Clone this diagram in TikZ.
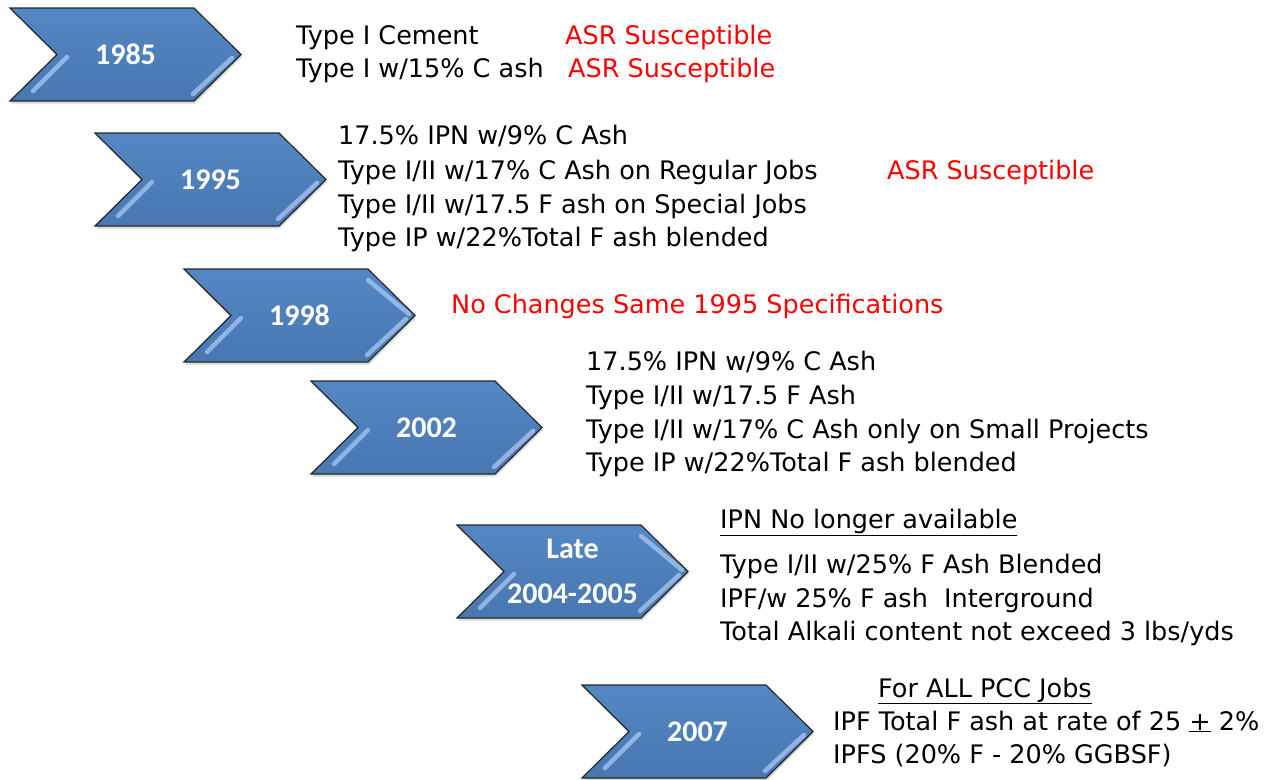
\documentclass[tikz,border=0pt]{standalone}
\usepackage{fontspec}
\setmainfont{DejaVu Sans}
\newfontfamily\yearfont{Carlito}
\usetikzlibrary{shadows}

\definecolor{chevtop}{RGB}{84,135,196}
\definecolor{chevbot}{RGB}{72,119,177}
\definecolor{glintblue}{RGB}{175,206,245}
\definecolor{asrred}{RGB}{255,0,0}

\tikzset{
  chev/.style={draw=black!85, line width=1.2pt, line join=miter, top color=chevtop, bottom color=chevbot,
    drop shadow={opacity=0.3, shadow xshift=1pt, shadow yshift=-2.5pt}},
  yearlbl/.style={text=white, font=\yearfont\bfseries\fontsize{30}{45}\selectfont, align=center, inner sep=0pt},
  spec/.style={anchor=base west, inner sep=0pt, font=\fontsize{25.5}{34}\selectfont},
  asr/.style={spec, text=asrred},
  glint/.style={draw=glintblue, line width=4.5pt, line cap=round, opacity=0.7}
}

% chevron: name, left, top, label
\newcommand{\yearchev}[4]{%
  \draw[chev] (#2,#3) -- ++(184,0) -- ++(47,46.5) -- ++(-47,46.5) -- ++(-184,0) -- ++(47,-46.5) -- cycle;
  \draw[glint] (#2+57,#3+49) -- ++(-34,34);
  \draw[glint] (#2+222,#3+50) -- ++(-39,36);
  \node[yearlbl] (#1) at (#2+115.5,#3+46.5) {#4};
}

\begin{document}
\begin{tikzpicture}[x=1pt,y=-1pt]
\useasboundingbox (0,0) rectangle (1266,779);

% year arrows
\yearchev{y85}{10}{8}{1985}
\yearchev{y95}{95}{133}{1995}
\yearchev{y98}{184}{269}{1998}
\yearchev{y02}{311}{381}{2002}
\yearchev{y05}{457}{525}{Late\\2004-2005}
\yearchev{y07}{582}{685}{2007}
\draw[glint] (184+184,269+11) -- ++(41,34);
\draw[glint] (457+184,525+11) -- ++(41,34);

% 1985
\node[spec] (c85a) at (296,44) {Type I Cement};
\node[spec] (c85b) at (296,77) {Type I w/15\% C ash};
\node[asr] (r85a) at (565,44) {ASR Susceptible};
\node[asr] (r85b) at (568,77) {ASR Susceptible};

% 1995
\node[spec] (c95a) at (338,144) {17.5\% IPN w/9\% C Ash};
\node[spec] (c95b) at (338,179) {Type I/II w/17\% C Ash on Regular Jobs};
\node[spec] (c95c) at (338,213) {Type I/II w/17.5 F ash on Special Jobs};
\node[spec] (c95d) at (338,246) {Type IP w/22\%Total F ash blended};
\node[asr] (r95) at (887,179) {ASR Susceptible};

% 1998
\node[asr] (r98) at (451,313) {No Changes Same 1995 Specifications};

% 2002
\node[spec] (c02a) at (586,370) {17.5\% IPN w/9\% C Ash};
\node[spec] (c02b) at (586,404) {Type I/II w/17.5 F Ash};
\node[spec] (c02c) at (586,438) {Type I/II w/17\% C Ash only on Small Projects};
\node[spec] (c02d) at (586,471) {Type IP w/22\%Total F ash blended};

% late 2004-2005
\node[spec] (c05h) at (720,528) {\underline{IPN No longer available}};
\node[spec] (c05a) at (720,573) {Type I/II w/25\% F Ash Blended};
\node[spec] (c05b) at (720,607) {IPF/w 25\% F ash\ \ Interground};
\node[spec] (c05c) at (720,640) {Total Alkali content not exceed 3 lbs/yds};

% 2007
\node[spec] (c07h) at (878,697) {\underline{For ALL PCC Jobs}};
\node[spec] (c07a) at (833,730) {IPF Total F ash at rate of 25 \underline{+} 2\%};
\node[spec] (c07b) at (833,763) {IPFS (20\% F - 20\% GGBSF)};
\end{tikzpicture}
\end{document}
